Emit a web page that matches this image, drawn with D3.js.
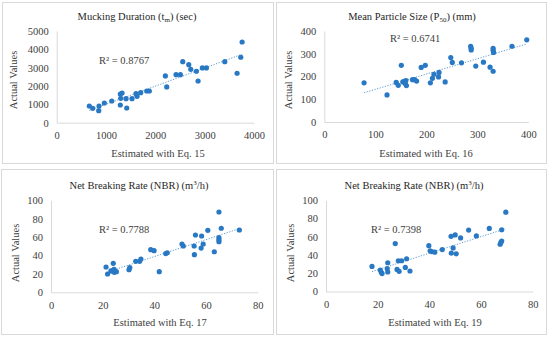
<!DOCTYPE html>
<html><head><meta charset="utf-8">
<script src="https://cdn.jsdelivr.net/npm/d3@7"></script>
<style>
html,body{margin:0;padding:0;background:#fff;}
svg{display:block;}
</style></head><body>
<svg id="c" width="550" height="337"></svg>
<script>
// ---- Data ----
const est15 = [661,730,858,852,966,1116,1290,1325,1298,1290,1406,1420,1527,1608,1629,1703,1825,1878,2203,2231,2420,2508,2556,2677,2718,2832,2866,2953,3035,3408,3657,3732,3759];
const act15 = [911,785,911,655,1075,1184,1566,1620,1330,966,1310,802,1310,1584,1440,1637,1729,1729,2548,1948,2620,2620,3330,3166,2913,2804,2275,2984,2984,3330,2695,3568,4400];

const est16 = [78,123,141,145,151,154,157,159,160,161,173,177,181,190,198,208,212,215,224,225,237,248,251,269,287,288,288,297,312,325,331,331,331,332,368,397];
const act16 = [172,119,174,161,249,176,179,168,182,160,186,186,180,240,249,172,192,210,198,218,176,283,262,260,333,324,317,246,263,241,223,324,315,306,333,361];

const est17 = [21.3,21.9,23.2,24.1,23.7,24.4,24.5,25.3,30.2,30.5,32.8,34.3,34.8,38.6,39.9,41.9,44.4,45.0,50.7,51.2,55.4,55.5,55.9,58.1,58.3,58.9,60.7,63.2,65.0,65.0,65.0,65.0,65.9,72.9];
const act17 = [27.5,19.9,23.2,31.5,23.2,25.0,21.7,22.4,24.6,26.8,33.7,33.7,36.2,46.3,45.2,22.4,42.0,43.0,52.5,50.3,50.3,40.9,62.3,48.1,61.2,52.5,67.4,44.1,87.3,59.4,57.2,55.0,69.6,67.7];

const est19 = [17.8,21.0,21.4,21.7,23.9,23.7,23.9,26.8,27.5,28.3,28.0,29.3,30.7,31.2,32.5,39.8,40.3,40.9,42.1,45.0,48.4,48.5,49.2,50.0,50.4,52.1,55.2,58.2,63.2,68.0,67.4,67.7,68.0,69.6];
const act19 = [27.5,23.6,21.0,19.6,31.5,25.0,21.4,52.5,24.2,22.1,33.7,33.7,26.4,35.9,22.5,50.3,44.6,43.8,43.1,46.0,60.5,42.0,47.8,62.0,41.3,58.7,67.4,60.9,69.2,67.7,51.8,54.0,55.4,87.0];

const r2Labels = ["R² = 0.8767","R² = 0.6741","R² = 0.7788","R² = 0.7398"];
const xLabels = ["Estimated with Eq. 15","Estimated with Eq. 16","Estimated with Eq. 17","Estimated with Eq. 19"];
const yLabel = "Actual Values";
const xTicks1 = [0,1000,2000,3000,4000], yTicks1 = [0,1000,2000,3000,4000,5000];
const xTicks2 = [0,100,200,300,400],     yTicks2 = [0,100,200,300,400];
const xTicks3 = [0,20,40,60,80],         yTicks3 = [0,20,40,60,80,100];
const xTicks4 = [0,20,40,60,80],         yTicks4 = [0,20,40,60,80,100];

// ---- Layout ----
const FONT = "'Liberation Serif', 'Times New Roman', serif";
const svg = d3.select("#c");
const panels = [
  {xs:est15, ys:act15, xt:xTicks1, yt:yTicks1, box:[2,2,273,163], px:[56.7,254], py:[122.7,31], title:[["Mucking Duration (t",""],["m","sub"],[") (sec)",""]], tpos:[137,19.5], r2pos:[99,63.5], xl:[158,156.5], yl:[13.5,80]},
  {xs:est16, ys:act16, xt:xTicks2, yt:yTicks2, box:[276,2,546,163], px:[324.3,528.3], py:[122,31], title:[["Mean Particle Size (P",""],["50","sub"],[") (mm)",""]], tpos:[412,19.5], r2pos:[390,41.5], xl:[426,156.5], yl:[288,80]},
  {xs:est17, ys:act17, xt:xTicks3, yt:yTicks3, box:[1,169,273,334], px:[51,257.7], py:[292.3,200.3], title:[["Net Breaking  Rate (NBR) (m",""],["3","sup"],["/h)",""]], tpos:[139,188.5], r2pos:[99,232.5], xl:[160,325.5], yl:[15,253]},
  {xs:est19, ys:act19, xt:xTicks4, yt:yTicks4, box:[276,169,546,334], px:[326,532.7], py:[291.5,200.3], title:[["Net Breaking  Rate (NBR) (m",""],["3","sup"],["/h)",""]], tpos:[414,188.5], r2pos:[371,232.5], xl:[435,325.5], yl:[290,253]}
];

panels.forEach((p,i)=>{
  const g = svg.append("g");
  g.append("rect").attr("x",p.box[0]+0.5).attr("y",p.box[1]+0.5)
    .attr("width",p.box[2]-p.box[0]).attr("height",p.box[3]-p.box[1])
    .attr("fill","#fff").attr("stroke","#d9d9d9").attr("stroke-width",1);

  const x = d3.scaleLinear().domain(d3.extent(p.xt)).range(p.px);
  const y = d3.scaleLinear().domain(d3.extent(p.yt)).range(p.py);

  const xa = g.append("g").attr("transform",`translate(0,${p.py[0]})`)
    .call(d3.axisBottom(x).tickValues(p.xt).tickSize(0).tickPadding(9).tickFormat(d3.format("d")));
  const ya = g.append("g").attr("transform",`translate(${p.px[0]},0)`)
    .call(d3.axisLeft(y).tickValues(p.yt).tickSize(0).tickPadding(8).tickFormat(d3.format("d")));
  [xa,ya].forEach(a=>{
    a.attr("font-family",FONT).attr("font-size",10.5);
    a.select(".domain").attr("stroke","#d9d9d9").attr("stroke-width",1);
    a.selectAll("text").attr("fill","#404040");
  });

  // trendline (least squares fit of the points)
  const n = p.xs.length, mx = d3.mean(p.xs), my = d3.mean(p.ys);
  let sxy=0,sxx=0; for(let k=0;k<n;k++){sxy+=(p.xs[k]-mx)*(p.ys[k]-my); sxx+=(p.xs[k]-mx)**2;}
  const b = sxy/sxx, a0 = my-b*mx;
  const [xmin,xmax] = d3.extent(p.xs);
  g.append("line").attr("x1",x(xmin)).attr("y1",y(a0+b*xmin)).attr("x2",x(xmax)).attr("y2",y(a0+b*xmax))
    .attr("stroke","#5b9bd5").attr("stroke-width",1).attr("stroke-dasharray","1.2,1.5");

  g.selectAll("circle").data(p.xs.map((v,k)=>[v,p.ys[k]])).enter().append("circle")
    .attr("cx",d=>x(d[0])).attr("cy",d=>y(d[1])).attr("r",2.6).attr("fill","#2878c4");

  // title
  const t = g.append("text").attr("x",p.tpos[0]).attr("y",p.tpos[1]).attr("text-anchor","middle")
    .attr("font-family",FONT).attr("font-size",10.5).attr("fill","#262626");
  p.title.forEach(([s,k],j)=>{
    const ts = t.append("tspan").text(s);
    if(k==="sub") ts.attr("dy",2.5).attr("font-size",7);
    else if(k==="sup") ts.attr("dy",-3.5).attr("font-size",7);
    else if(j>0) ts.attr("dy", p.title[1][1]==="sub"?-2.5:3.5);
  });

  g.append("text").attr("x",p.r2pos[0]).attr("y",p.r2pos[1]).attr("font-family",FONT).attr("font-size",10.5).attr("fill","#404040").text(r2Labels[i]);
  g.append("text").attr("x",p.xl[0]).attr("y",p.xl[1]).attr("text-anchor","middle").attr("font-family",FONT).attr("font-size",10.5).attr("fill","#404040").text(xLabels[i]);
  g.append("text").attr("transform",`translate(${p.yl[0]+3.5},${p.yl[1]}) rotate(-90)`).attr("text-anchor","middle").attr("font-family",FONT).attr("font-size",10.5).attr("fill","#404040").text(yLabel);
});
</script></body></html>
